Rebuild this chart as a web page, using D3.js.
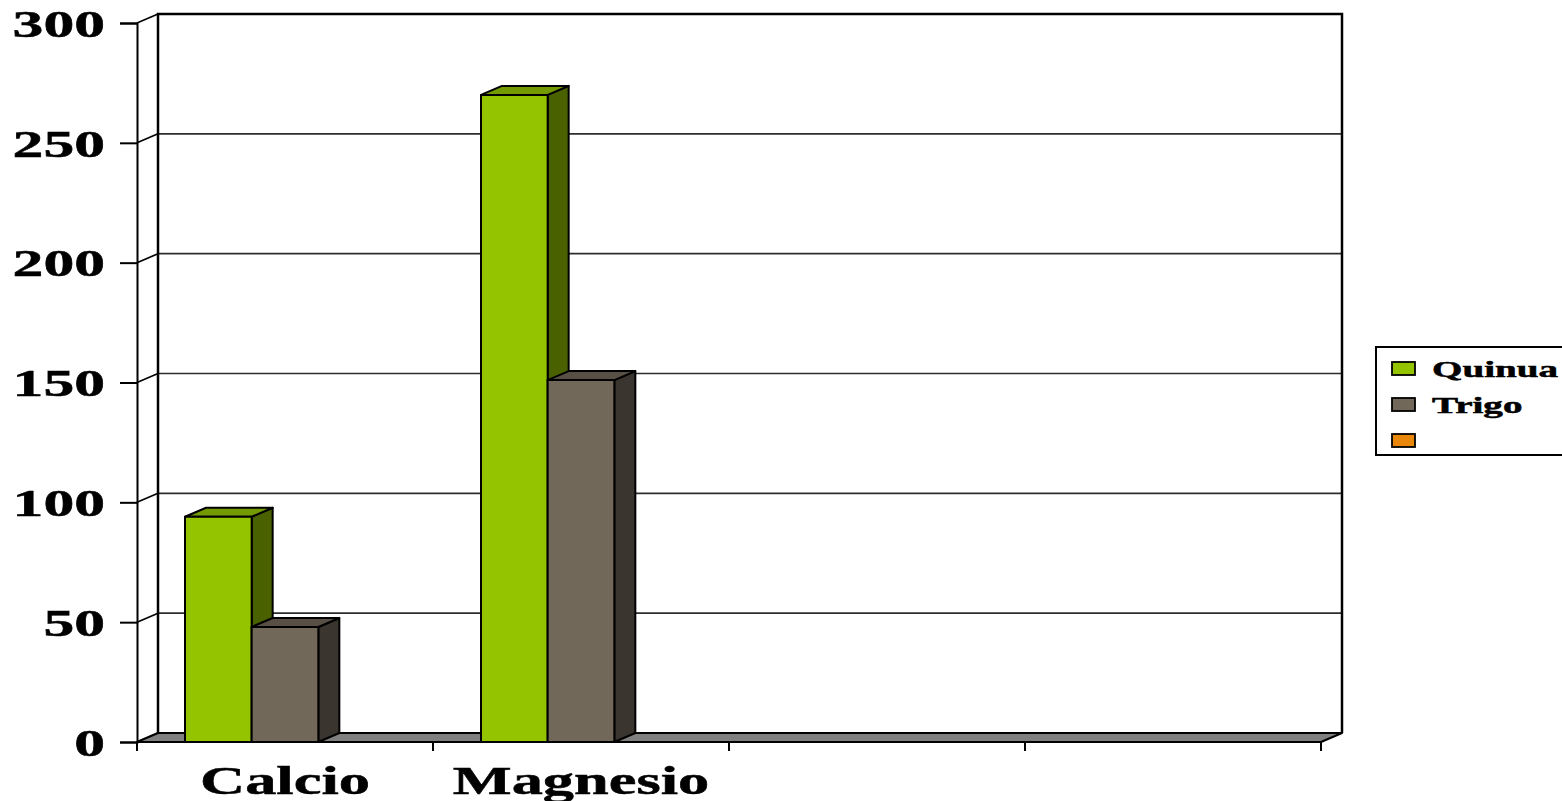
<!DOCTYPE html>
<html>
<head>
<meta charset="utf-8">
<script src="https://cdn.jsdelivr.net/npm/d3@7"></script>
<style>
  html, body { margin: 0; padding: 0; background: #fff; }
  svg { display: block; }
  text { font-family: "Liberation Serif", "Times New Roman", serif; font-weight: bold; fill: #000; stroke: #000; stroke-width: 0.5px; }
</style>
</head>
<body>
<svg id="chart" width="1562" height="801"></svg>
<script>
// Mineral content (mg / 100 g)
const categories = ["Calcio", "Magnesio", "", ""];
const seriesNames = ["Quinua", "Trigo", ""];
const quinua = [94, 270, null, null];
const trigo = [48, 151, null, null];
const third = [null, null, null, null];
const yTicks = [0, 50, 100, 150, 200, 250, 300];

const seriesValues = [quinua, trigo, third];
const palette = [
  { front: "#94C300", top: "#739A00", side: "#4A6100" },
  { front: "#72685A", top: "#585045", side: "#3A352F" },
  { front: "#E8870A", top: "#B86A05", side: "#8A5004" }
];

const svg = d3.select("#chart");
const DX = 21, DY = -9;   // 3-D depth offset

const y = d3.scaleLinear().domain([0, 300]).range([742, 23]);
const x = d3.scaleBand().domain(d3.range(categories.length)).range([137, 1321]);
const xs = d3.scaleBand().domain(d3.range(seriesNames.length))
  .range([0, x.bandwidth()]).paddingOuter(0.72);

const y0 = y(0);
const xL = x.range()[0], xR = x.range()[1];

// back wall gridlines
svg.append("g").selectAll("line").data(yTicks.filter(v => v > 0)).join("line")
  .attr("x1", xL + DX).attr("x2", xR + DX)
  .attr("y1", d => y(d) + DY).attr("y2", d => y(d) + DY)
  .attr("stroke", "#2e2e2e").attr("stroke-width", 1.7);

// left wall: diagonals from axis ticks to back wall
svg.append("g").selectAll("line").data(yTicks).join("line")
  .attr("x1", xL).attr("x2", xL + DX)
  .attr("y1", d => y(d)).attr("y2", d => y(d) + DY)
  .attr("stroke", "#000").attr("stroke-width", 1.6);

// wall frame
svg.append("path")
  .attr("d", `M${xL + DX},${y0 + DY} V${y(300) + DY} H${xR + DX} V${y0 + DY}`)
  .attr("fill", "none").attr("stroke", "#000").attr("stroke-width", 2.5);

// floor
svg.append("path")
  .attr("d", `M${xL},${y0} L${xL + DX},${y0 + DY} H${xR + DX} L${xR},${y0} Z`)
  .attr("fill", "#808080").attr("stroke", "#000").attr("stroke-width", 2)
  .attr("stroke-linejoin", "round");

// y axis
const yAxis = svg.append("g").attr("transform", `translate(${xL},0)`)
  .call(d3.axisLeft(y).tickValues(yTicks).tickSize(17).tickFormat(d3.format("d")));
yAxis.select(".domain").attr("stroke", "#000").attr("stroke-width", 2);
yAxis.selectAll(".tick line").attr("stroke", "#000").attr("stroke-width", 2);
yAxis.selectAll(".tick text")
  .attr("x", null).attr("dy", "0.34em")
  .attr("transform", "translate(-32,0) scale(1.58,1)")
  .attr("text-anchor", "end")
  .style("font-family", '"Liberation Serif", serif').style("font-size", "39px")
  .style("font-weight", "bold");

// category ticks at band boundaries
const bounds = d3.range(categories.length + 1).map(i => xL + i * x.step());
svg.append("g").selectAll("line").data(bounds).join("line")
  .attr("x1", d => d).attr("x2", d => d).attr("y1", y0).attr("y2", y0 + 9)
  .attr("stroke", "#000").attr("stroke-width", 2);
svg.append("line").attr("x1", xL).attr("x2", xR).attr("y1", y0).attr("y2", y0)
  .attr("stroke", "#000").attr("stroke-width", 2);

// category labels
svg.append("g").selectAll("text").data(categories.map((c, i) => ({ c, i })).filter(d => d.c))
  .join("text")
  .attr("transform", d => `translate(${x(d.i) + x.bandwidth() / 2},794) scale(1.56,1)`)
  .attr("text-anchor", "middle").style("font-size", "40px")
  .text(d => d.c);

// 3-D columns
const bars = [];
categories.forEach((c, ci) => {
  seriesValues.forEach((vals, si) => {
    if (vals[ci] != null) bars.push({ ci, si, v: vals[ci] });
  });
});
const barG = svg.append("g");
bars.forEach(b => {
  const x0 = x(b.ci) + xs(b.si), x1 = x0 + xs.bandwidth();
  const yt = y(b.v);
  const col = palette[b.si];
  const g = barG.append("g").attr("stroke", "#000").attr("stroke-width", 2)
    .attr("stroke-linejoin", "round");
  g.append("path").attr("fill", col.side)
    .attr("d", `M${x1},${yt} L${x1 + DX},${yt + DY} V${y0 + DY} L${x1},${y0} Z`);
  g.append("path").attr("fill", col.top)
    .attr("d", `M${x0},${yt} L${x0 + DX},${yt + DY} H${x1 + DX} L${x1},${yt} Z`);
  g.append("rect").attr("fill", col.front)
    .attr("x", x0).attr("y", yt).attr("width", x1 - x0).attr("height", y0 - yt);
});

// legend
const leg = svg.append("g").attr("transform", "translate(1376,347)");
leg.append("rect").attr("width", 220).attr("height", 108)
  .attr("fill", "#fff").attr("stroke", "#000").attr("stroke-width", 2);
const items = leg.selectAll("g.item").data(seriesNames).join("g")
  .attr("class", "item")
  .attr("transform", (d, i) => `translate(0,${15 + i * 36})`);
items.append("rect").attr("x", 16).attr("width", 23).attr("height", 13)
  .attr("fill", (d, i) => palette[i].front).attr("stroke", "#000").attr("stroke-width", 1.8);
items.append("text")
  .attr("transform", "translate(56,15) scale(1.7,1)")
  .style("font-size", "23px")
  .text(d => d);
</script>
</body>
</html>
